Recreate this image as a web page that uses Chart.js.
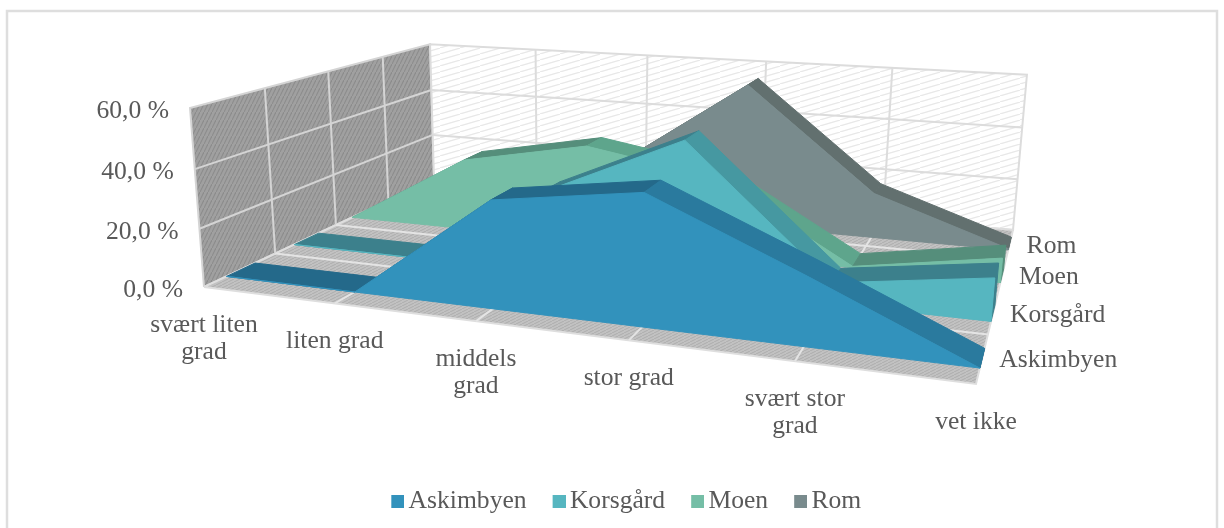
<!DOCTYPE html>
<html>
<head>
<meta charset="utf-8">
<style>
  html, body { margin: 0; background: #fff; }
  canvas { display: block; }
</style>
<script src="https://cdn.jsdelivr.net/npm/chart.js@4"></script>
</head>
<body>
<canvas id="chart3d" width="1224" height="528"></canvas>
<script>
const categories = [['svært liten', 'grad'], ['liten grad'], ['middels', 'grad'], ['stor grad'], ['svært stor', 'grad'], ['vet ikke']];
const seriesNames = ['Askimbyen', 'Korsgård', 'Moen', 'Rom'];
const askimbyen = [0, 0, 35.4, 42, 21.5, 0];
const korsgard = [0, 0, 28.3, 49.7, 7, 14];
const moen = [0, 27, 36, 28, 0.5, 8.6];
const rom = [0, 3, 22, 55, 17, 0.5];
const valueTicks = [0, 20, 40, 60];
const yMax = 60;

const faceColors = ['#3292bc', '#56b6c0', '#75bea6', '#798b8d'];
const topColors = ['#24698a', '#3c808c', '#558e7b', '#62706f'];
const slopeColors = ['#2a7a9e', '#4698a1', '#5ea58c', '#62706f'];
const textColor = '#595959';
const font = '25.6px "Liberation Serif"';

// corners of the floor on screen, the rest of the box follows from them
const fl = [204, 287], fr = [976, 384], bl = [434, 179], br = [1013, 230];
const vanish = [578, 5072];
const gamma = -0.03606;
const dx1 = fr[0] - br[0], dx2 = bl[0] - br[0], sx = fl[0] - fr[0] + br[0] - bl[0];
const dy1 = fr[1] - br[1], dy2 = bl[1] - br[1], sy = fl[1] - fr[1] + br[1] - bl[1];
const den = dx1 * dy2 - dx2 * dy1;
const alpha = (sx * dy2 - dx2 * sy) / den;
const beta = (dx1 * sy - sx * dy1) / den;

function project(u, d, v) {
    const h = v / yMax;
    const w = 1 + alpha * u + beta * d + gamma * h;
    return {
        x: (fl[0] + (fr[0] * (1 + alpha) - fl[0]) * u + (bl[0] * (1 + beta) - fl[0]) * d + gamma * vanish[0] * h) / w,
        y: (fl[1] + (fr[1] * (1 + alpha) - fl[1]) * u + (bl[1] * (1 + beta) - fl[1]) * d + gamma * vanish[1] * h) / w
    };
}

function hatch(w, h, base, draw) {
    const c = document.createElement('canvas');
    c.width = w;
    c.height = h;
    const g = c.getContext('2d');
    g.fillStyle = base;
    g.fillRect(0, 0, w, h);
    draw(g);
    return g.createPattern(c, 'repeat');
}

const sideWall = hatch(4, 8, '#a0a0a0', g => {
    g.strokeStyle = '#8c8c8c';
    g.lineWidth = 1.2;
    g.beginPath(); g.moveTo(0, 8); g.lineTo(4, 0); g.stroke();
});
const backWall = hatch(20, 6, '#ffffff', g => {
    g.strokeStyle = '#e8e8e8';
    g.lineWidth = 1.2;
    g.beginPath(); g.moveTo(0, 6); g.lineTo(20, 0); g.stroke();
});
const floorFill = hatch(6, 3, '#c2c2c2', g => {
    g.strokeStyle = '#adadad';
    g.lineWidth = 1;
    g.beginPath(); g.moveTo(0, 3); g.lineTo(6, 0); g.stroke();
});

// painted from the back to the front, reversed below because chart.js paints dataset 0 last
const layers = [];

function addShape(pts, fill, border, width) {
    layers.push({
        data: pts.concat([pts[0]]),
        polygon: true,
        backgroundColor: fill,
        borderColor: border || fill,
        borderWidth: width || 1
    });
}

function addLine(a, b, color, width) {
    layers.push({ data: [a, b], borderColor: color, borderWidth: width, backgroundColor: color });
}

addShape([project(0, 0, 0), project(0, 1, 0), project(0, 1, yMax), project(0, 0, yMax)], sideWall, '#d4d4d4', 2);
addShape([project(0, 1, 0), project(1, 1, 0), project(1, 1, yMax), project(0, 1, yMax)], backWall, '#dcdcdc', 2);
addShape([project(0, 0, 0), project(1, 0, 0), project(1, 1, 0), project(0, 1, 0)], floorFill, '#dedede', 2);

categories.forEach((c, i) => {
    if (i === 0 || i === categories.length - 1) return;
    const u = i / (categories.length - 1);
    addLine(project(u, 1, 0), project(u, 1, yMax), '#dcdcdc', 2);
    addLine(project(u, 0, 0), project(u, 1, 0), '#e4e4e4', 2);
});
[0.25, 0.5, 0.75].forEach(d => {
    addLine(project(0, d, 0), project(0, d, yMax), '#d4d4d4', 2);
    addLine(project(0, d, 0), project(1, d, 0), '#e4e4e4', 2);
});
valueTicks.forEach(v => {
    if (v === 0 || v === yMax) return;
    addLine(project(0, 0, v), project(0, 1, v), '#d4d4d4', 2);
    addLine(project(0, 1, v), project(1, 1, v), '#dcdcdc', 2);
});

const seriesValues = [askimbyen, korsgard, moen, rom];

// back series first so the front ones cover them
for (let s = seriesValues.length - 1; s >= 0; s--) {
    const vals = seriesValues[s];
    const df = 0.075 + s * 0.25, db = df + 0.1;
    const last = vals.length - 1;
    addShape([project(1, df, 0), project(1, db, 0), project(1, db, vals[last]), project(1, df, vals[last])], topColors[s]);
    for (let i = 0; i < last; i++) {
        const c = vals[i + 1] < vals[i] ? slopeColors[s] : topColors[s];
        addShape([project(i / last, df, vals[i]), project((i + 1) / last, df, vals[i + 1]),
            project((i + 1) / last, db, vals[i + 1]), project(i / last, db, vals[i])], c);
    }
    const top = vals.map((v, i) => project(i / last, df, v));
    addShape(top.concat([project(1, df, 0), project(0, df, 0)]), faceColors[s]);
    layers[layers.length - 1].label = seriesNames[s];
}

const datasets = layers.reverse().map(l => Object.assign({
    showLine: true,
    fill: false,
    pointRadius: 0,
    tension: 0,
    clip: false
}, l));

function legendMark(color) {
    // the square sits right of the centre so it lands close to its text
    const c = document.createElement('canvas');
    c.width = 30;
    c.height = 13;
    const g = c.getContext('2d');
    g.fillStyle = color;
    g.fillRect(17, 0, 13, 13);
    return c;
}

const polygonFill = {
    id: 'polygonFill',
    afterLayout(chart) {
        // one data unit is one pixel on both hidden axes
        const y = chart.scales.y;
        y.max = y.bottom;
        y.configure();
    },
    beforeDraw(chart) {
        const ctx = chart.ctx;
        ctx.save();
        ctx.strokeStyle = '#dedede';
        ctx.lineWidth = 2.5;
        ctx.strokeRect(7, 11, 1210, 530);
        ctx.restore();
    },
    beforeDatasetDraw(chart, args) {
        const ds = chart.data.datasets[args.index];
        if (!ds.polygon) return;
        const ctx = chart.ctx;
        const pts = args.meta.data;
        ctx.save();
        ctx.fillStyle = ds.backgroundColor;
        ctx.beginPath();
        pts.forEach((p, i) => i ? ctx.lineTo(p.x, p.y) : ctx.moveTo(p.x, p.y));
        ctx.closePath();
        ctx.fill();
        ctx.restore();
    }
};

const axisText = {
    id: 'axisText',
    afterDatasetsDraw(chart) {
        const ctx = chart.ctx;
        const sx = chart.scales.x, sy = chart.scales.y;
        const at = p => [sx.getPixelForValue(p.x), sy.getPixelForValue(p.y)];
        ctx.save();
        ctx.font = font;
        ctx.fillStyle = textColor;
        ctx.textBaseline = 'middle';

        ctx.textAlign = 'right';
        valueTicks.forEach(v => {
            const [x, y] = at(project(0, 0, v));
            ctx.fillText(v.toFixed(1).replace('.', ',') + ' %', x - 21, y + 3);
        });

        ctx.textAlign = 'center';
        categories.forEach((lines, i) => {
            const [x, y] = at(project(i / (categories.length - 1), 0, 0));
            lines.forEach((t, j) => ctx.fillText(t, x, y + 38 + j * 27));
        });

        ctx.textAlign = 'left';
        seriesNames.forEach((name, s) => {
            const [x, y] = at(project(1, 0.125 + s * 0.25, 0));
            ctx.fillText(name, x + 17, y + 2);
        });
        ctx.restore();
    }
};

new Chart(document.getElementById('chart3d').getContext('2d'), {
    type: 'scatter',
    data: { datasets: datasets },
    plugins: [polygonFill, axisText],
    options: {
        responsive: false,
        animation: false,
        events: [],
        layout: { padding: { left: 20, right: 0, top: 0, bottom: 4 } },
        scales: {
            x: { type: 'linear', display: false, min: 20, max: 1224 },
            y: { type: 'linear', display: false, min: 0, max: 528, reverse: true }
        },
        plugins: {
            tooltip: { enabled: false },
            legend: {
                position: 'bottom',
                labels: {
                    color: textColor,
                    font: { family: 'Liberation Serif', size: 25.6 },
                    usePointStyle: true,
                    pointStyleWidth: 13,
                    padding: 17.5,
                    generateLabels(chart) {
                        return Chart.defaults.plugins.legend.labels.generateLabels(chart)
                            .filter(item => chart.data.datasets[item.datasetIndex].label)
                            .map(item => {
                                const ds = chart.data.datasets[item.datasetIndex];
                                item.text = ds.label;
                                item.pointStyle = legendMark(ds.backgroundColor);
                                return item;
                            });
                    }
                }
            }
        }
    }
});
</script>
</body>
</html>
